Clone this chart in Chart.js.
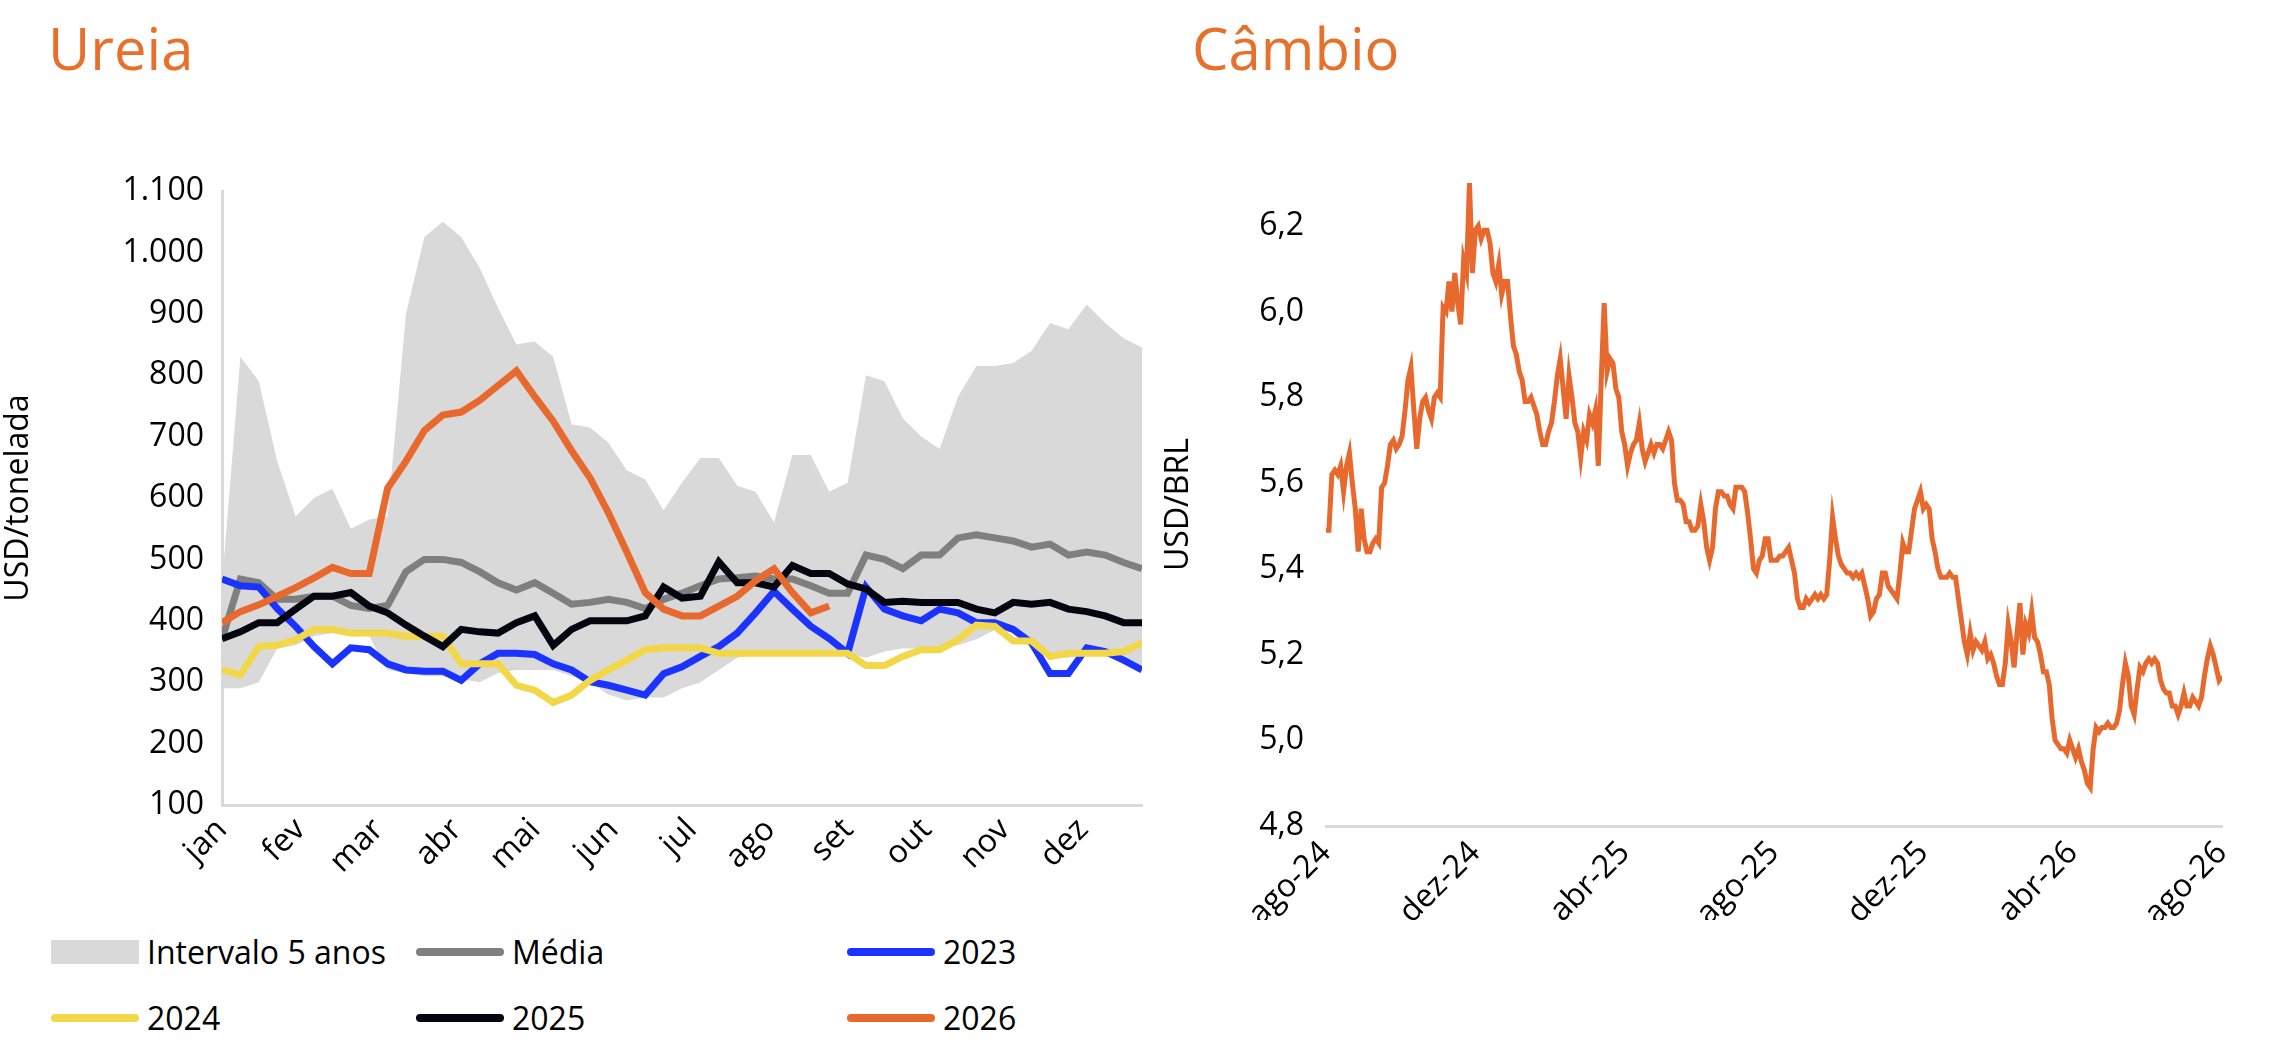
<!DOCTYPE html>
<html>
<head>
<meta charset="utf-8">
<script src="https://cdn.jsdelivr.net/npm/chart.js@4.4.1/dist/chart.umd.min.js"></script>
<style>
  body { margin:0; width:2278px; height:1050px; background:#fff; font-family:"Open Sans", sans-serif; position:relative; overflow:hidden; }
  .title { position:absolute; top:8px; font-size:58px; color:#E8702A; font-weight:400; }
  .wrap { position:absolute; }
  .leg { position:absolute; font-size:32px; color:#000; display:flex; align-items:center; }
  .sw { display:inline-block; margin-right:8px; }
</style>
</head>
<body>
<div class="title" style="left:48px">Ureia</div>
<div class="title" style="left:1192px">Câmbio</div>
<div class="wrap" style="left:0;top:120px;width:1150px;height:800px"><canvas id="ureia"></canvas></div>
<div class="wrap" style="left:1160px;top:120px;width:1100px;height:800px"><canvas id="cambio"></canvas></div>
<div id="legend"></div>
<script>
// --- Ureia data (USD/tonelada, semanal) ---
const monthLabels = ['jan','fev','mar','abr','mai','jun','jul','ago','set','out','nov','dez'];
const bandUpper = [460,830,790,660,570,600,615,550,565,570,900,1025,1050,1025,975,910,850,855,830,720,715,690,645,630,580,625,665,665,620,610,560,670,670,610,625,800,790,730,700,680,765,815,815,820,840,885,875,915,885,860,845];
const bandLower = [290,290,300,355,360,375,380,375,375,320,315,310,310,305,300,315,320,320,320,310,300,280,270,275,275,290,300,320,340,345,350,350,350,345,345,340,350,355,355,355,360,370,385,385,370,340,340,345,345,340,320];
const media = [370,468,462,435,435,440,440,425,420,425,480,500,500,495,480,462,450,462,445,427,430,435,430,420,435,445,457,468,470,473,468,468,457,445,445,507,500,485,507,507,535,540,535,530,520,525,507,512,507,495,485];
const y2023 = [468,457,455,420,391,358,330,356,353,330,320,318,318,303,330,347,347,345,330,320,301,295,287,279,314,325,342,358,380,413,448,419,391,371,347,455,419,408,400,419,413,397,397,386,364,314,314,356,350,336,320];
const y2024 = [320,312,358,360,369,386,386,380,380,380,375,375,375,330,330,330,295,287,267,279,303,320,336,353,356,356,356,347,347,347,347,347,347,347,347,327,327,342,353,353,369,393,391,367,367,342,347,347,347,350,364];
const y2025 = [371,382,397,397,419,440,440,446,424,413,393,375,358,386,382,380,397,408,360,386,400,400,400,408,455,437,440,496,462,462,455,490,477,477,460,452,430,432,430,430,430,419,413,430,427,430,419,415,408,397,397];
const y2026 = [397,415,426,440,454,470,487,477,477,616,660,710,735,740,759,783,807,765,725,677,633,576,512,446,419,408,408,424,440,465,485,446,413,424];
const ureiaTicks = [100,200,300,400,500,600,700,800,900,1000,1100];

// --- Câmbio data (USD/BRL, ago-24 a ago-26) ---
const fxLabels = ['ago-24','dez-24','abr-25','ago-25','dez-25','abr-26','ago-26'];
const fxTicks = [4.8,5.0,5.2,5.4,5.6,5.8,6.0,6.2];
const fx = [5.49,5.49,5.62,5.63,5.62,5.64,5.58,5.64,5.67,5.60,5.54,5.44,5.54,5.47,5.44,5.44,5.46,5.47,5.46,5.59,
5.60,5.64,5.69,5.70,5.68,5.69,5.71,5.77,5.84,5.87,5.77,5.68,5.75,5.79,5.80,5.77,5.75,5.80,5.81,5.80,
6.01,6.00,6.07,6.00,6.09,6.02,5.97,6.12,6.09,6.30,6.09,6.19,6.20,6.17,6.19,6.19,6.16,6.09,6.07,6.11,
6.04,6.07,6.07,5.99,5.92,5.90,5.86,5.84,5.79,5.79,5.80,5.78,5.76,5.72,5.69,5.69,5.72,5.74,5.79,5.85,
5.89,5.82,5.75,5.85,5.80,5.74,5.72,5.66,5.72,5.70,5.76,5.74,5.77,5.64,5.84,6.02,5.86,5.89,5.88,5.82,
5.80,5.72,5.69,5.64,5.67,5.69,5.70,5.74,5.68,5.65,5.67,5.69,5.67,5.69,5.69,5.68,5.70,5.72,5.70,5.60,
5.56,5.56,5.55,5.51,5.51,5.49,5.49,5.50,5.55,5.51,5.45,5.42,5.45,5.54,5.58,5.58,5.57,5.57,5.55,5.54,
5.59,5.59,5.59,5.58,5.53,5.47,5.40,5.39,5.42,5.43,5.47,5.47,5.42,5.42,5.42,5.43,5.43,5.44,5.45,5.42,
5.39,5.33,5.31,5.31,5.33,5.32,5.33,5.34,5.33,5.34,5.33,5.34,5.42,5.52,5.47,5.43,5.41,5.40,5.39,5.39,
5.38,5.39,5.38,5.39,5.36,5.33,5.29,5.30,5.33,5.34,5.39,5.39,5.36,5.35,5.34,5.33,5.39,5.46,5.44,5.44,
5.49,5.54,5.56,5.58,5.54,5.55,5.54,5.47,5.44,5.40,5.38,5.38,5.38,5.39,5.38,5.38,5.33,5.28,5.23,5.20,
5.25,5.21,5.23,5.22,5.21,5.23,5.19,5.20,5.18,5.15,5.13,5.13,5.18,5.27,5.23,5.17,5.25,5.32,5.20,5.27,
5.25,5.30,5.24,5.23,5.20,5.16,5.16,5.13,5.05,5.00,4.99,4.98,4.98,4.97,5.00,4.98,4.96,4.98,4.95,4.93,
4.90,4.89,4.98,5.03,5.02,5.03,5.03,5.04,5.03,5.03,5.04,5.07,5.13,5.18,5.15,5.08,5.06,5.12,5.17,5.16,
5.18,5.19,5.18,5.19,5.18,5.14,5.12,5.11,5.11,5.08,5.08,5.06,5.08,5.11,5.08,5.08,5.10,5.09,5.08,5.10,
5.15,5.19,5.22,5.20,5.17,5.14,5.15];

const FONT = { family: '"Open Sans", sans-serif', size: 32 };
const BLACK = '#000';
const pts = arr => arr.map((v, i) => ({ x: i, y: v }));

function lineDs(label, data, color, width) {
    return { label, data: pts(data), borderColor: color, borderWidth: width, pointRadius: 0, tension: 0, fill: false };
}

// --- Ureia chart ---
const lastX = bandUpper.length - 1;
const monthStep = lastX / 11.75;
new Chart(document.getElementById('ureia'), {
    type: 'line',
    data: {
        datasets: [
            { label: 'min', data: pts(bandLower), borderWidth: 0, pointRadius: 0, fill: false, order: 10 },
            { label: 'Intervalo 5 anos', data: pts(bandUpper), borderWidth: 0, pointRadius: 0, backgroundColor: '#D9D9D9', fill: '-1', order: 9 },
            Object.assign(lineDs('Média', media, '#7F7F7F', 7), { order: 6 }),
            Object.assign(lineDs('2023', y2023, '#1A33FF', 7), { order: 5 }),
            Object.assign(lineDs('2024', y2024, '#F2D848', 7), { order: 4 }),
            Object.assign(lineDs('2025', y2025, '#050510', 7), { order: 3 }),
            Object.assign(lineDs('2026', y2026, '#E8692E', 7), { order: 2 })
        ]
    },
    options: {
        responsive: true, maintainAspectRatio: false, animation: false,
        layout: { padding: { top: 71, right: 8 } },
        plugins: { legend: { display: false }, tooltip: { enabled: false } },
        scales: {
            x: {
                type: 'linear', min: 0, max: lastX,
                grid: { display: false, drawTicks: false },
                border: { color: '#D9D9D9', width: 3 },
                afterBuildTicks: s => { s.ticks = monthLabels.map((_, k) => ({ value: k * monthStep })); },
                afterFit: s => { s.height = 800 - 805 + 120; },
                ticks: {
                    font: FONT, color: BLACK, minRotation: 45, maxRotation: 45, padding: 6,
                    callback: (v, i) => monthLabels[i]
                }
            },
            y: {
                min: 100, max: 1100,
                grid: { display: false, drawTicks: false },
                border: { color: '#D9D9D9', width: 3 },
                afterBuildTicks: s => { s.ticks = ureiaTicks.map(v => ({ value: v })); },
                afterFit: s => { s.width = 222; },
                title: { display: true, text: 'USD/tonelada', font: FONT, color: BLACK, padding: 0 },
                ticks: {
                    font: FONT, color: BLACK, padding: 18,
                    callback: v => v >= 1000 ? Math.floor(v / 1000) + '.' + String(v % 1000).padStart(3, '0') : String(v)
                }
            }
        }
    }
});

// --- Câmbio chart ---
const fxLast = fx.length - 1;
new Chart(document.getElementById('cambio'), {
    type: 'line',
    data: { datasets: [lineDs('USD/BRL', fx, '#E8692E', 5)] },
    options: {
        responsive: true, maintainAspectRatio: false, animation: false,
        layout: { padding: { top: 63, right: 38 } },
        plugins: { legend: { display: false }, tooltip: { enabled: false } },
        scales: {
            x: {
                type: 'linear', min: 0, max: fxLast,
                grid: { display: false, drawTicks: false },
                border: { color: '#D9D9D9', width: 3 },
                afterBuildTicks: s => { s.ticks = fxLabels.map((_, k) => ({ value: k * fxLast / (fxLabels.length - 1) })); },
                afterFit: s => { s.height = 800 - 826 + 120; },
                ticks: { font: FONT, color: BLACK, minRotation: 45, maxRotation: 45, padding: 8, callback: (v, i) => fxLabels[i] }
            },
            y: {
                min: 4.8, max: 6.3,
                grid: { display: false, drawTicks: false },
                border: { display: false },
                afterBuildTicks: s => { s.ticks = fxTicks.map(v => ({ value: v })); },
                afterFit: s => { s.width = 1326 - 1160; },
                title: { display: true, text: 'USD/BRL', font: FONT, color: BLACK, padding: 0 },
                ticks: { font: FONT, color: BLACK, padding: 22, callback: v => v.toFixed(1).replace('.', ',') }
            }
        }
    }
});

// --- Legend (Ureia) ---
const legendItems = [
    { text: 'Intervalo 5 anos', color: '#D9D9D9', box: true, x: 51, y: 930 },
    { text: 'Média', color: '#7F7F7F', x: 416, y: 930 },
    { text: '2023', color: '#1A33FF', x: 847, y: 930 },
    { text: '2024', color: '#F2D848', x: 51, y: 996 },
    { text: '2025', color: '#050510', x: 416, y: 996 },
    { text: '2026', color: '#E8692E', x: 847, y: 996 }
];
const leg = document.getElementById('legend');
legendItems.forEach(it => {
    const h = it.box ? 24 : 8;
    leg.innerHTML += `<div class="leg" style="left:${it.x}px;top:${it.y}px">
        <span class="sw" style="width:88px;height:${h}px;background:${it.color};border-radius:${it.box ? 0 : 4}px"></span>${it.text}</div>`;
});
</script>
</body>
</html>
